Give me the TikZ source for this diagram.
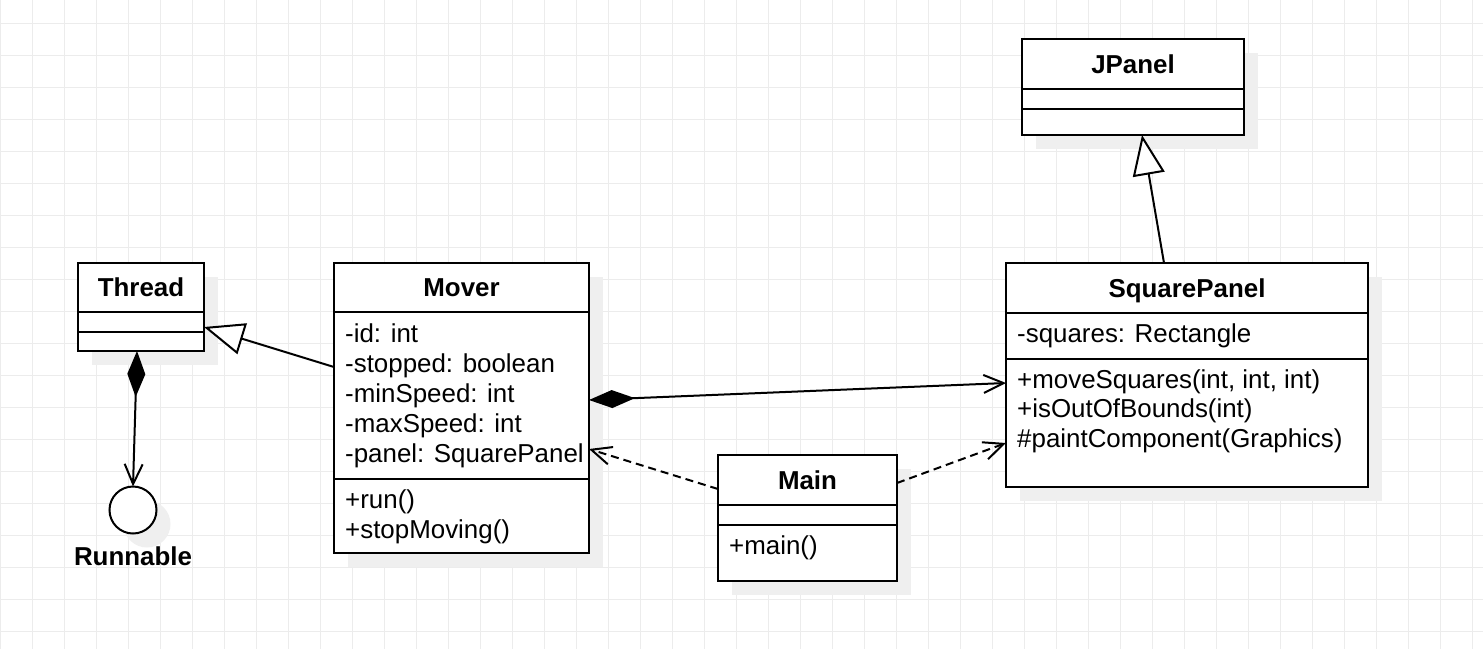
\documentclass[tikz,border=0pt]{standalone}
\usepackage{fontspec}
\setmainfont{Liberation Sans}
\usetikzlibrary{arrows.meta}
\usetikzlibrary{positioning}
\usetikzlibrary{shadows}

\definecolor{gridgray}{RGB}{236,236,236}
\definecolor{shadowgray}{RGB}{239,239,239}
\newcommand\umlfont{\fontsize{25.9}{30}\selectfont}

\begin{document}
\begin{tikzpicture}[x=1pt,y=-1pt,
    gridline/.style={draw=gridgray,line width=1pt},
    box/.style={draw,line width=2pt,fill=white,inner sep=0pt,outer sep=0pt,
      drop shadow={shadow xshift=14pt,shadow yshift=-14pt,fill=shadowgray,opacity=1}},
    head/.style={box,font=\umlfont\bfseries,text height=18.6pt,text depth=0pt},
    member/.style={anchor=base west,inner sep=0pt,font=\umlfont},
    link/.style={line width=2pt},
    extends/.style={link,-{Triangle[length=40pt,width=32pt,fill=white]}},
    owns/.style={link,{Diamond[length=46pt,width=18pt]}-{Straight Barb[length=20pt,width=18pt]}},
    uses/.style={link,dash pattern=on 8pt off 5pt,-{Straight Barb[length=20pt,width=18pt]}}]

  \fill[white] (0,0) rectangle (1483,649);
  \useasboundingbox (0,0) rectangle (1483,649);

  % grid
  \foreach \x in {0,...,46}
    \draw[gridline] (32*\x+0.5,0) -- (32*\x+0.5,649);
  \foreach \y in {0,...,19}
    \draw[gridline] (0,32*\y+23) -- (1483,32*\y+23);

  % Thread
  \node[head,minimum width=126pt,minimum height=49pt,anchor=north west] (ThreadHead) at (78,263) {Thread};
  \node[box,minimum width=126pt,minimum height=20pt,below=0pt of ThreadHead] (ThreadAttr) {};
  \node[box,minimum width=126pt,minimum height=19pt,below=0pt of ThreadAttr] (ThreadOps) {};

  % Runnable
  \node[box,circle,minimum size=47pt] (Runnable) at (133,510) {};
  \node[anchor=base,inner sep=0pt,font=\umlfont\bfseries] (RunnableLab) at (133,565) {Runnable};

  % Mover
  \node[head,minimum width=255pt,minimum height=49pt,anchor=north west] (MoverHead) at (334,263) {Mover};
  \node[box,minimum width=255pt,minimum height=167pt,below=0pt of MoverHead] (MoverAttr) {};
  \node[box,minimum width=255pt,minimum height=74pt,below=0pt of MoverAttr] (MoverOps) {};
  \foreach \m [count=\i] in {-id: int,-stopped: boolean,-minSpeed: int,-maxSpeed: int,-panel: SquarePanel}
    \node[member] (MoverAttr-\i) at ([xshift=11pt,yshift=-30pt*\i]MoverAttr.north west) {\m};
  \foreach \m [count=\i] in {+run(),+stopMoving()}
    \node[member] (MoverOps-\i) at ([xshift=11pt,yshift=-30pt*\i+1pt]MoverOps.north west) {\m};

  % Main
  \node[head,minimum width=179pt,minimum height=50pt,anchor=north west] (MainHead) at (718,455) {Main};
  \node[box,minimum width=179pt,minimum height=20pt,below=0pt of MainHead] (MainAttr) {};
  \node[box,minimum width=179pt,minimum height=56pt,below=0pt of MainAttr] (MainOps) {};
  \node[member] (MainOps-1) at ([xshift=11pt,yshift=-29pt]MainOps.north west) {+main()};

  % SquarePanel
  \node[head,minimum width=362pt,minimum height=50pt,anchor=north west] (PanelHead) at (1006,263) {SquarePanel};
  \node[box,minimum width=362pt,minimum height=46pt,below=0pt of PanelHead] (PanelAttr) {};
  \node[box,minimum width=362pt,minimum height=128pt,below=0pt of PanelAttr] (PanelOps) {};
  \node[member] (PanelAttr-1) at ([xshift=11pt,yshift=-29pt]PanelAttr.north west) {-squares: Rectangle};
  \foreach \m [count=\i] in {{+moveSquares(int, int, int)},+isOutOfBounds(int),\#paintComponent(Graphics)}
    \node[member] (PanelOps-\i) at ([xshift=11pt,yshift=-29.5pt*\i+0.5pt]PanelOps.north west) {\m};

  % JPanel
  \node[head,minimum width=222pt,minimum height=50pt,anchor=north west] (JPanelHead) at (1022,39) {JPanel};
  \node[box,minimum width=222pt,minimum height=20pt,below=0pt of JPanelHead] (JPanelAttr) {};
  \node[box,minimum width=222pt,minimum height=26pt,below=0pt of JPanelAttr] (JPanelOps) {};

  % relations
  \draw[owns] ([xshift=-4pt]ThreadOps.south) -- (Runnable.north);
  \draw[extends] ([yshift=-55pt]MoverAttr.north west) -- ([yshift=5pt]ThreadAttr.south east);
  \draw[owns] ([yshift=-88pt]MoverAttr.north east) -- ([yshift=-24pt]PanelOps.north west);
  \draw[uses] ([yshift=-34pt]MainHead.north west) -- ([yshift=-137pt]MoverAttr.north east);
  \draw[uses] ([yshift=-28pt]MainHead.north east) -- ([yshift=-84pt]PanelOps.north west);
  \draw[extends] ([xshift=-23pt]PanelHead.north) -- ([xshift=9pt]JPanelOps.south);

\end{tikzpicture}
\end{document}
